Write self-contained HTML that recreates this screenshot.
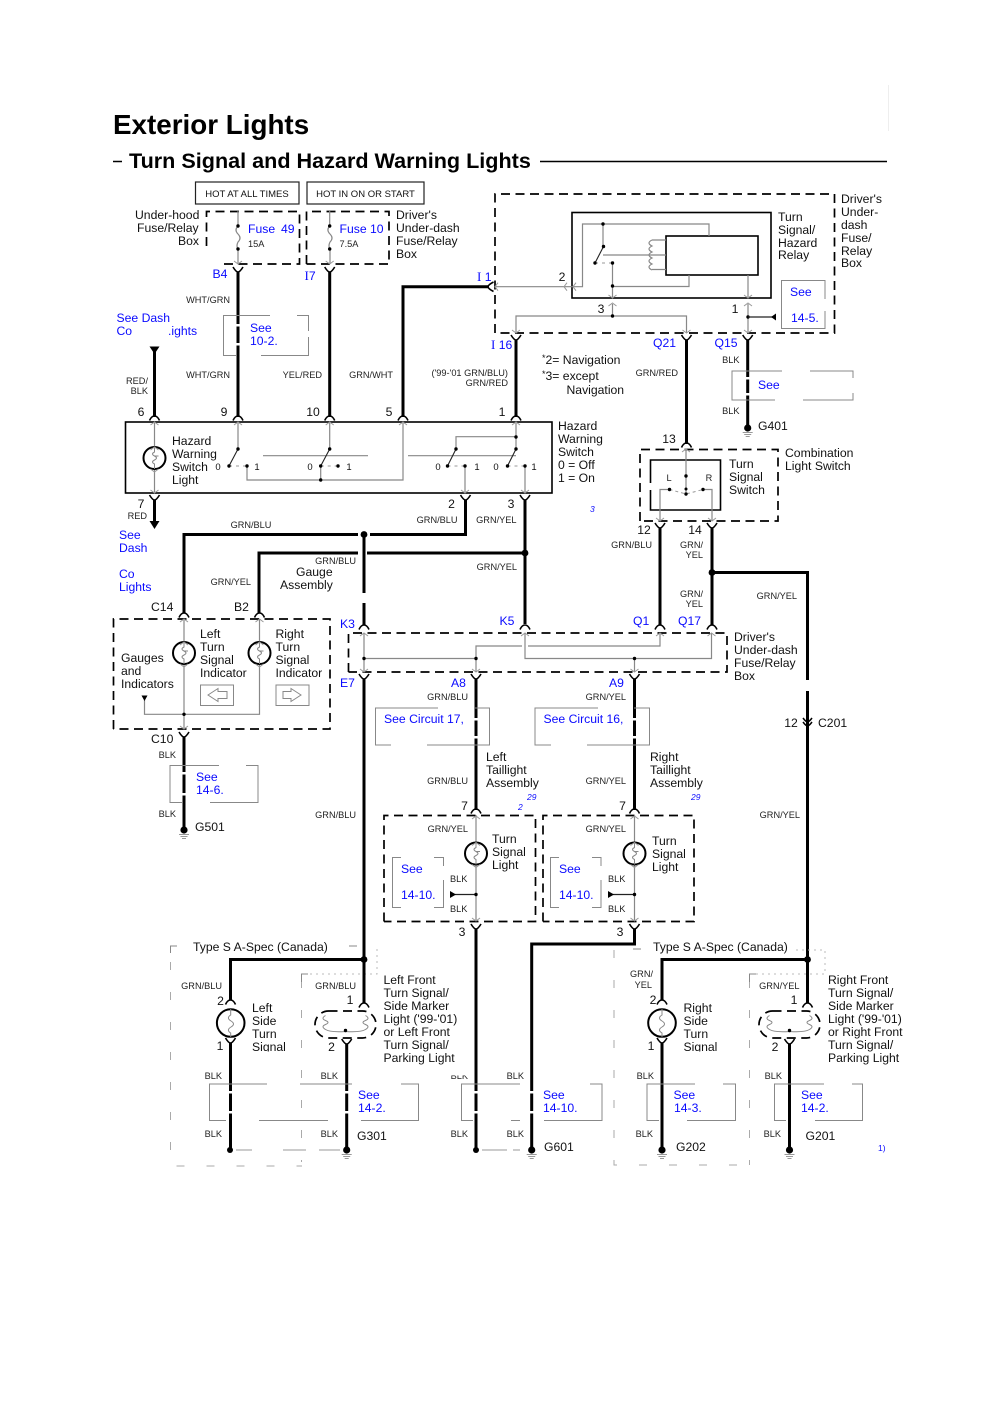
<!DOCTYPE html>
<html><head><meta charset="utf-8"><title>Exterior Lights</title>
<style>
html,body{margin:0;padding:0;background:#fff}
svg{display:block;filter:blur(.3px)}
text{font-family:"Liberation Sans",sans-serif;font-size:12.2px;fill:#111}
.s{font-size:9.2px;fill:#222}
.e{text-anchor:end}
.m{text-anchor:middle}
.l{fill:#0a0aff}
.i{font-style:italic;font-size:8.5px;fill:#0a0aff}
.t{fill:none;stroke:#000;stroke-width:3}
.g{fill:none;stroke:#888;stroke-width:1.2}
.f{fill:none;stroke:#888;stroke-width:1}
.b{fill:none;stroke:#000;stroke-width:1.6}
.d{fill:none;stroke:#000;stroke-width:1.7;stroke-dasharray:9 5.5}
.n{fill:none;stroke:#333;stroke-width:1.2}
.x{fill:none;stroke:#aaa;stroke-width:1;stroke-dasharray:8 22}
.y{fill:none;stroke:#bbb;stroke-width:1;stroke-dasharray:2 4}
.k{fill:#000}
.r{font-family:"Liberation Serif",serif}
</style></head><body>
<svg width="1000" height="1414" viewBox="0 0 1000 1414" xmlns="http://www.w3.org/2000/svg">
<defs>
<path id="A" d="M-5 2.5Q-3-2 0-2Q3-2 5 2.5" fill="none" stroke="#000" stroke-width="1.6"/>
<path id="C" d="M-5-3Q-2 2 0 2Q2 2 5-3" fill="none" stroke="#000" stroke-width="1.6"/>
<path id="D" d="M-4-3L0 0L4-3" fill="none" stroke="#999" stroke-width="1"/>
<path id="U" d="M-4 3L0 0L4 3" fill="none" stroke="#999" stroke-width="1"/>
<path id="L" d="M3-4L0 0L3 4" fill="none" stroke="#999" stroke-width="1"/>
<g id="G"><circle r="3.6" fill="#000"/><path d="M-5 4.5H5M-3.5 6.5H3.5M-2 8.5H2" stroke="#999" stroke-width="1" fill="none"/></g>
<g id="B"><circle r="11" fill="#fff" stroke="#000" stroke-width="2"/><path d="M0-11V-6Q-4-4 0-2Q4 0 0 2Q-4 4 0 6V11M0-2H4" fill="none" stroke="#888" stroke-width="1"/><use href="#U" y="-11"/><use href="#D" y="14"/></g>
<g id="O"><rect x="-30.500" y="-13.500" width="61" height="27" rx="13.500" fill="none" stroke="#000" stroke-width="1.7" stroke-dasharray="9 5.5"/><path d="M-20-9Q-25-6-20-4Q-15-2-20 0Q-25 2-20 5Q-15 8 0 7Q15 8 20 5Q25 2 20 0Q15-2 20-4Q25-6 20-9" fill="none" stroke="#888" stroke-width="1"/><circle cy="6" r="1.7" class="k"/></g>
</defs>

<!-- Heading -->
<line x1="888.500" y1="85" x2="888.500" y2="131" stroke="#eee" stroke-width="1"/>
<text x="113" y="134" style="font-size:27.8px;font-weight:bold;fill:#000">Exterior Lights</text>
<text x="129" y="168" style="font-size:21.6px;font-weight:bold;fill:#000">Turn Signal and Hazard Warning Lights</text>
<path d="M113 161.500H122M540 161.500H887" stroke="#000" stroke-width="1.5" fill="none"/>

<!-- HOT boxes -->
<rect x="195.500" y="182" width="103.500" height="22" fill="none" stroke="#222" stroke-width="1.200"/>
<rect x="307" y="182" width="117" height="22" fill="none" stroke="#222" stroke-width="1.200"/>
<text x="247" y="197" class="m" style="font-size:9.5px">HOT AT ALL TIMES</text>
<text x="365.500" y="197" class="m" style="font-size:9.5px">HOT IN ON OR START</text>

<!-- Fuse boxes -->
<path class="d" d="M206.500 246V211.500H299.500V264H223"/>
<path class="d" d="M306.500 264V211.500H389V264H306.500"/>
<path class="g" d="M238 211V226Q234 230 238 234Q242 238 238 242Q236 246 238 249V264"/>
<path class="g" d="M329.700 211V226Q326 230 330 234Q334 238 330 242Q328 246 330 249V264"/>
<use href="#D" x="238" y="264"/><use href="#D" x="329.700" y="264"/>
<g class="k"><circle cx="238" cy="226" r="1.700"/><circle cx="238" cy="249" r="1.700"/><circle cx="329.700" cy="226" r="1.700"/><circle cx="329.700" cy="249" r="1.700"/></g>
<text x="135" y="219">Under-hood</text><text x="137" y="232">Fuse/Relay</text><text x="178" y="245">Box</text>
<text x="248" y="233" class="l">Fuse</text><text x="281" y="233" class="l">49</text>
<text x="248" y="247" class="s">15A</text>
<text x="339.500" y="233" class="l">Fuse 10</text>
<text x="339.500" y="247" class="s">7.5A</text>
<text x="396" y="219">Driver's</text><text x="396" y="232">Under-dash</text><text x="396" y="245">Fuse/Relay</text><text x="396" y="258">Box</text>
<text x="212.500" y="278" class="l">B4</text>
<text x="304.500" y="280" class="l"><tspan class="r" style="font-size:13px">I</tspan>7</text>
<text x="477" y="281" class="l"><tspan class="r" style="font-size:13px">I</tspan> 1</text>
<text x="491" y="349" class="l"><tspan class="r" style="font-size:13px">I</tspan> 16</text>

<!-- Top thick wires -->
<path class="t" d="M238 272V417M329.700 272V417M403 417V286.700H489M516 340V417M154.500 350V417M686.500 340V444M747.700 340V425"/>
<path d="M149.500 346.500H159.500L154.500 354Z" class="k"/>
<use href="#C" x="238" y="270"/><use href="#C" x="329.700" y="270"/><use href="#C" x="516" y="338"/><use href="#C" x="686.500" y="338"/><use href="#C" x="747.700" y="338"/>
<path d="M493.500 282Q488 285 488 286.700Q488 288.500 493.500 291.500" fill="none" stroke="#000" stroke-width="1.600"/>
<use href="#A" x="154.500" y="418"/><use href="#A" x="238" y="418"/><use href="#A" x="329.700" y="418"/><use href="#A" x="403" y="418"/><use href="#A" x="516" y="418"/><use href="#A" x="686.500" y="445"/>

<!-- See boxes upper -->
<path class="f" d="M270 315.500H223.500V355.500H236M261 355.500H308.500V337M308.500 331V315.500H297"/>
<rect x="235" y="324" width="6" height="2.500" fill="#fff"/><rect x="235" y="343" width="6" height="2.500" fill="#fff"/>
<text x="116.500" y="322" class="l">See Dash</text><text x="116.500" y="335" class="l">Co</text><text x="168" y="335" class="l">.ights</text>
<text x="250" y="332" class="l">See</text><text x="250" y="345" class="l">10-2.</text>
<text x="230" y="303" class="s e">WHT/GRN</text><text x="230" y="378" class="s e">WHT/GRN</text>
<text x="322" y="378" class="s e">YEL/RED</text><text x="393" y="378" class="s e">GRN/WHT</text>
<text x="508" y="376" class="s e">('99-'01 GRN/BLU)</text><text x="508" y="386" class="s e">GRN/RED</text>
<text x="148" y="384" class="s e">RED/</text><text x="148" y="394" class="s e">BLK</text>
<text x="141" y="416" class="m">6</text><text x="224" y="416" class="m">9</text><text x="313" y="416" class="m">10</text><text x="389" y="416" class="m">5</text><text x="502" y="416" class="m">1</text>

<!-- Hazard Warning Switch -->
<rect x="125.500" y="422" width="426.500" height="71" class="b"/>
<path class="g" d="M154.500 422V447M154.500 469V493M238 422V449M329.700 422V449M516 422V449M456 449V436.700H516M465 466V493M525 466V493M263 455.700H368M408 455.700H516M247 466V480H403V422M320.700 466V480"/>
<path d="M238 449L229 466M329.700 449L320.700 466M456 449L447.500 466M516 449L507.500 466" stroke="#222" stroke-width="1.100" fill="none"/>
<path d="M229 466H247M320.700 466H338M447.500 466H465M507.500 466H525" stroke="#999" stroke-width="1" stroke-dasharray="3 4" fill="none"/>
<g class="k"><circle cx="238" cy="449" r="1.700"/><circle cx="229" cy="466" r="1.700"/><circle cx="247" cy="466" r="1.700"/><circle cx="329.700" cy="449" r="1.700"/><circle cx="320.700" cy="466" r="1.700"/><circle cx="338" cy="466" r="1.700"/><circle cx="320.700" cy="480" r="1.700"/><circle cx="516" cy="437" r="1.700"/><circle cx="516" cy="449" r="1.700"/><circle cx="456" cy="449" r="1.700"/><circle cx="447.500" cy="466" r="1.700"/><circle cx="465" cy="466" r="1.700"/><circle cx="507.500" cy="466" r="1.700"/><circle cx="525" cy="466" r="1.700"/></g>
<use href="#B" x="154.500" y="458"/>
<use href="#U" x="154.500" y="422"/><use href="#U" x="238" y="422"/><use href="#U" x="329.700" y="422"/><use href="#U" x="403" y="422"/><use href="#U" x="516" y="422"/>
<use href="#D" x="154.500" y="493"/><use href="#D" x="465" y="493"/><use href="#D" x="525" y="493"/>
<text x="172" y="445">Hazard</text><text x="172" y="458">Warning</text><text x="172" y="471">Switch</text><text x="172" y="484">Light</text>
<g><text x="218" y="470" class="m" style="font-size:9.500px">0</text><text x="257" y="470" class="m" style="font-size:9.500px">1</text><text x="310" y="470" class="m" style="font-size:9.500px">0</text><text x="349" y="470" class="m" style="font-size:9.500px">1</text><text x="438" y="470" class="m" style="font-size:9.500px">0</text><text x="477" y="470" class="m" style="font-size:9.500px">1</text><text x="496" y="470" class="m" style="font-size:9.500px">0</text><text x="534" y="470" class="m" style="font-size:9.500px">1</text></g>
<text x="558" y="430">Hazard</text><text x="558" y="443">Warning</text><text x="558" y="456">Switch</text><text x="558" y="469">0 = Off</text><text x="558" y="482">1 = On</text>
<text x="141" y="508" class="m">7</text><text x="451.500" y="508" class="m">2</text><text x="511" y="508" class="m">3</text>
<use href="#C" x="154.500" y="498"/><use href="#C" x="465.500" y="498"/><use href="#C" x="525" y="498"/>
<path class="t" d="M154.500 500V524M465.500 500V534.500H370M358 534.500H184V613M525 500V624M367 553H525M358 553H259V613M364 534.500V593M364 603V625"/>
<path d="M149.500 521H159.500L154.500 529Z" class="k"/>
<circle cx="364" cy="534.500" r="3.400" class="k"/><circle cx="525" cy="553" r="3.400" class="k"/>
<text x="147" y="519" class="s e">RED</text>
<text x="119" y="539" class="l">See</text><text x="119" y="552" class="l">Dash</text><text x="119" y="578" class="l">Co</text><text x="119" y="591" class="l">Lights</text>
<text x="251" y="528" class="s m">GRN/BLU</text><text x="457.500" y="523" class="s e">GRN/BLU</text><text x="516.500" y="523" class="s e">GRN/YEL</text><text x="356" y="564" class="s e">GRN/BLU</text><text x="517" y="570" class="s e">GRN/YEL</text><text x="251" y="585" class="s e">GRN/YEL</text>
<text x="296" y="576">Gauge</text><text x="280" y="589">Assembly</text>

<!-- Relay box -->
<path class="d" d="M495 333V194H834.500V333H495"/>
<rect x="572" y="212.500" width="199" height="85.500" class="b"/>
<rect x="666" y="236" width="92" height="39" class="b"/>
<path class="g" d="M495 286.700H582.500V224H709V236M603 224V246.500M603 255H666M652 240H666M652 269.500H666M612.500 263V298M612.500 286.500H689V275M748 275V298M612.500 304V316M516 333V316H686.500V333M748 304V333"/>
<path d="M652 240Q646 243 652 246Q646 249 652 252Q646 255 652 258Q646 261 652 264Q646 267 652 270" class="g"/>
<path d="M603.500 246.500L595 263" stroke="#222" stroke-width="1.100" fill="none"/>
<path d="M595 263H612" stroke="#999" stroke-width="1" stroke-dasharray="3 4" fill="none"/>
<g class="k"><circle cx="603" cy="224" r="1.700"/><circle cx="603.500" cy="246.500" r="1.700"/><circle cx="595" cy="263" r="1.700"/><circle cx="612.500" cy="263" r="1.700"/><circle cx="612.500" cy="286" r="1.700"/><circle cx="612.500" cy="316" r="1.700"/><circle cx="748" cy="317" r="1.700"/></g>
<path d="M748 317H775" stroke="#222" stroke-width="1.200"/><path d="M771 317L776 313.500V320.500Z" class="k"/>
<use href="#L" x="495" y="286.700"/><use href="#L" x="564" y="286.700"/><use href="#L" x="573" y="286.700"/>
<use href="#D" x="612.500" y="298"/><use href="#D" x="748" y="298"/><use href="#U" x="612.500" y="303"/><use href="#U" x="748" y="303"/>
<use href="#D" x="516" y="333"/><use href="#D" x="686.500" y="333"/><use href="#D" x="748" y="333"/>
<text x="562" y="281" class="m">2</text><text x="601" y="313" class="m">3</text><text x="735" y="313" class="m">1</text>
<path class="f" d="M825 299V280.500H781.500V328.500H825V311"/>
<text x="790" y="296" class="l">See</text><text x="791" y="322" class="l">14-5.</text>
<text x="778" y="221">Turn</text><text x="778" y="234">Signal/</text><text x="778" y="247">Hazard</text><text x="778" y="259">Relay</text>
<text x="841" y="203">Driver's</text><text x="841" y="216">Under-</text><text x="841" y="229">dash</text><text x="841" y="242">Fuse/</text><text x="841" y="255">Relay</text><text x="841" y="267">Box</text>
<text x="542" y="364"><tspan dy="-3" style="font-size:9px">*</tspan><tspan dy="3">2= Navigation</tspan></text>
<text x="542" y="380"><tspan dy="-3" style="font-size:9px">*</tspan><tspan dy="3">3= except</tspan></text>
<text x="566.500" y="394">Navigation</text>
<text x="678" y="376" class="s e">GRN/RED</text>
<text x="653" y="347" class="l">Q21</text><text x="714.500" y="347" class="l">Q15</text>

<!-- G401 -->
<path class="f" d="M782 371H732V400H775M803 400H853V393M853 378V371H810"/>
<rect x="745" y="377" width="6" height="2.500" fill="#fff"/><rect x="745" y="393" width="6" height="2.500" fill="#fff"/>
<use href="#G" x="747.700" y="428"/>
<text x="758" y="389" class="l">See</text>
<text x="739.500" y="363" class="s e">BLK</text><text x="739.500" y="414" class="s e">BLK</text>
<text x="758" y="430">G401</text>
<text x="669" y="443" class="m">13</text>

<!-- Combination switch -->
<path class="d" d="M640 521V449.500H778V521H640"/>
<path class="b" d="M650.500 483V460H720.500V510H650.500V490"/>
<path class="g" d="M686 449V492M669.500 489.500H660V521M703 489.500H712V521"/>
<path d="M669.500 489.500L686 494L703 489.500" stroke="#999" stroke-width="1" stroke-dasharray="3 3" fill="none"/>
<g class="k"><circle cx="686" cy="476" r="1.700"/><circle cx="686" cy="489" r="1.500"/><circle cx="686" cy="494" r="1.700"/><circle cx="669.500" cy="489.500" r="1.700"/><circle cx="703" cy="489.500" r="1.700"/></g>
<use href="#U" x="686" y="449"/><use href="#D" x="660" y="521"/><use href="#D" x="712" y="521"/>
<text x="669" y="481" class="s m">L</text><text x="709" y="481" class="s m">R</text>
<text x="729" y="468">Turn</text><text x="729" y="481">Signal</text><text x="729" y="494">Switch</text>
<text x="785" y="457">Combination</text><text x="785" y="470">Light Switch</text>
<text x="590" y="512" class="i">3</text>
<text x="644" y="534" class="m">12</text><text x="695" y="534" class="m">14</text>
<use href="#C" x="660" y="526"/><use href="#C" x="712" y="526"/>
<path class="t" d="M660 528V625M712 528V625M712 572.500H807.500V680M807.500 691V960"/>
<circle cx="712" cy="572.500" r="3.400" class="k"/>
<text x="652" y="548" class="s e">GRN/BLU</text><text x="703" y="548" class="s e">GRN/</text><text x="703" y="558" class="s e">YEL</text><text x="703" y="597" class="s e">GRN/</text><text x="703" y="607" class="s e">YEL</text><text x="797" y="599" class="s e">GRN/YEL</text>
<path d="M803 718Q806 722 807.500 722Q809 722 812 718M803 722Q806 726 807.500 726Q809 726 812 722" fill="none" stroke="#000" stroke-width="1.500"/>
<text x="791" y="727" class="m">12</text><text x="818" y="727">C201</text>

<!-- Gauges -->
<path class="d" d="M113.500 729V619H330V729H113.500"/>
<path class="g" d="M184 619V641M184 665V729M259.500 619V641M259.500 665V714.300H144.500V700"/>
<circle cx="184" cy="714.300" r="1.700" class="k"/>
<path d="M141.500 695.500H147.500L144.500 701Z" class="k"/>
<use href="#U" x="184" y="619"/><use href="#U" x="259.500" y="619"/><use href="#D" x="184" y="729"/>
<use href="#B" x="184" y="653"/><use href="#B" x="259.500" y="653"/>
<use href="#A" x="184" y="615"/><use href="#A" x="259.500" y="615"/><use href="#A" x="364" y="627"/><use href="#A" x="525" y="627"/><use href="#A" x="660" y="627"/><use href="#A" x="712" y="627"/>
<text x="151" y="611">C14</text><text x="234" y="611">B2</text>
<text x="200" y="638">Left</text><text x="200" y="651">Turn</text><text x="200" y="664">Signal</text><text x="200" y="677">Indicator</text>
<text x="275.500" y="638">Right</text><text x="275.500" y="651">Turn</text><text x="275.500" y="664">Signal</text><text x="275.500" y="677">Indicator</text>
<text x="121" y="662">Gauges</text><text x="121" y="675">and</text><text x="121" y="688">Indicators</text>
<rect x="200.500" y="685" width="33" height="20.500" class="f"/><rect x="276" y="685" width="33" height="20.500" class="f"/>
<path class="f" d="M208 695L218 688.500V691.500H227V698.500H218V701.500Z"/>
<path class="f" d="M301 695L291 688.500V691.500H283V698.500H291V701.500Z"/>
<text x="151" y="743">C10</text>
<use href="#C" x="184" y="735"/>
<path class="t" d="M184 737V827"/>
<use href="#G" x="184" y="830"/>
<path class="f" d="M219 765.500H170V802.500H182M210 802.500H258V765.500H246"/>
<rect x="181" y="772" width="6" height="2.500" fill="#fff"/><rect x="181" y="793" width="6" height="2.500" fill="#fff"/>
<text x="196" y="781" class="l">See</text><text x="196" y="794" class="l">14-6.</text>
<text x="176" y="758" class="s e">BLK</text><text x="176" y="817" class="s e">BLK</text>
<text x="195" y="831">G501</text>
<text x="356" y="818" class="s e">GRN/BLU</text>

<!-- Under-dash box lower -->
<text x="340" y="628" class="l">K3</text><text x="340" y="687" class="l">E7</text>
<text x="499.500" y="625" class="l">K5</text><text x="633" y="625" class="l">Q1</text><text x="678" y="625" class="l">Q17</text>
<text x="451" y="687" class="l">A8</text><text x="609" y="687" class="l">A9</text>
<path class="d" d="M348.500 672V633H727V672H348.500"/>
<path class="g" d="M364 633V672M364 658.500H476M476 672V646H522M528 646H660V633M525 633V658.500H711.500V633M634.500 658.500V672"/>
<g class="k"><circle cx="364" cy="658.500" r="1.700"/><circle cx="476" cy="658.500" r="1.700"/><circle cx="634.500" cy="658.500" r="1.700"/></g>
<use href="#U" x="364" y="633"/><use href="#U" x="525" y="633"/><use href="#U" x="660" y="633"/><use href="#U" x="711.500" y="633"/>
<use href="#D" x="364" y="672"/><use href="#D" x="476" y="672"/><use href="#D" x="634.500" y="672"/>
<text x="734" y="641">Driver's</text><text x="734" y="654">Under-dash</text><text x="734" y="667">Fuse/Relay</text><text x="734" y="680">Box</text>
<use href="#C" x="364" y="677"/><use href="#C" x="476" y="677"/><use href="#C" x="634.500" y="677"/>
<path class="t" d="M364 679V960M476 679V810M634.500 679V810"/>
<text x="468" y="700" class="s e">GRN/BLU</text><text x="626" y="700" class="s e">GRN/YEL</text><text x="468" y="784" class="s e">GRN/BLU</text><text x="626" y="784" class="s e">GRN/YEL</text>
<path class="f" d="M438 708H375.500V745H391M427 745H489.500V708H474"/>
<path class="f" d="M598 708H535V745H551M587 745H649.500V708H634"/>
<rect x="473" y="718" width="6" height="2.500" fill="#fff"/><rect x="473" y="736" width="6" height="2.500" fill="#fff"/><rect x="631.500" y="718" width="6" height="2.500" fill="#fff"/><rect x="631.500" y="736" width="6" height="2.500" fill="#fff"/>
<text x="384" y="723" class="l">See Circuit 17,</text><text x="543.500" y="723" class="l">See Circuit 16,</text>
<text x="486" y="761">Left</text><text x="486" y="774">Taillight</text><text x="486" y="787">Assembly</text>
<text x="650" y="761">Right</text><text x="650" y="774">Taillight</text><text x="650" y="787">Assembly</text>
<text x="527" y="800" class="i">29</text><text x="518" y="810" class="i">2</text><text x="691" y="800" class="i">29</text>
<text x="464.500" y="810" class="m">7</text><text x="622.500" y="810" class="m">7</text>
<use href="#A" x="476" y="811"/><use href="#A" x="634.500" y="811"/>

<!-- Taillight boxes -->
<path class="d" d="M384 921.500V815.500H535.500V921.500H384"/>
<path class="d" d="M543 921.500V815.500H694V921.500H543"/>
<path class="g" d="M476 815V842M476 865V921M634.500 815V842M634.500 865V921"/>
<use href="#U" x="476" y="816"/><use href="#U" x="634.500" y="816"/><use href="#D" x="476" y="921"/><use href="#D" x="634.500" y="921"/>
<use href="#B" x="476" y="853.500"/><use href="#B" x="634.500" y="853.500"/>
<path d="M452 894.500H476M610 894.500H634.500" stroke="#222" stroke-width="1.200"/>
<path d="M450 891V898L456 894.500ZM608 891V898L614 894.500Z" class="k"/>
<circle cx="476" cy="894.500" r="1.700" class="k"/><circle cx="634.500" cy="894.500" r="1.700" class="k"/>
<path class="f" d="M401 857.500H392.500V907.500H401M434 857.500H443.500V866M443.500 880V907.500H434"/>
<path class="f" d="M559 857.500H550.500V907.500H559M592 857.500H601V866M601 880V907.500H592"/>
<text x="401" y="873" class="l">See</text><text x="401" y="899" class="l">14-10.</text><text x="559" y="873" class="l">See</text><text x="559" y="899" class="l">14-10.</text>
<text x="468" y="832" class="s e">GRN/YEL</text><text x="626" y="832" class="s e">GRN/YEL</text>
<text x="450" y="882" class="s">BLK</text><text x="450" y="912" class="s">BLK</text><text x="608" y="882" class="s">BLK</text><text x="608" y="912" class="s">BLK</text>
<text x="492" y="843">Turn</text><text x="492" y="856">Signal</text><text x="492" y="869">Light</text>
<text x="652" y="845">Turn</text><text x="652" y="858">Signal</text><text x="652" y="871">Light</text>
<text x="800" y="818" class="s e">GRN/YEL</text>
<text x="462" y="936" class="m">3</text><text x="620" y="936" class="m">3</text>
<use href="#C" x="476" y="927"/><use href="#C" x="634.500" y="927"/>
<path class="t" d="M476 929V1148M634.500 929V944H531.700V1148"/>

<!-- Bottom section: faded option boxes -->
<path class="f" d="M177 946H170.500V953"/>
<path class="x" d="M170.500 962V1166H302"/>
<path class="x" d="M301.500 980V1162"/>
<path class="f" d="M308 974H301.500V982M349 946H357"/>
<path class="y" d="M310 974H377V946"/>
<path class="x" d="M614 950V1165H750"/>
<path class="x" d="M749.500 980V1165"/>
<path class="f" d="M756 974H749.500V982M633 949H641"/>
<path class="y" d="M756 974H825V950H795"/>

<path class="t" d="M364 959.500H230.500V1000M364 960V1003M807.500 960V1003M807.500 959.500H662V1000"/>
<circle cx="364" cy="959.500" r="3.400" class="k"/><circle cx="807.500" cy="959.500" r="3.400" class="k"/>
<text x="193" y="951">Type S A-Spec (Canada)</text><text x="653" y="951">Type S A-Spec (Canada)</text>
<text x="222" y="989" class="s e">GRN/BLU</text><text x="356" y="989" class="s e">GRN/BLU</text><text x="653" y="977" class="s e">GRN/</text><text x="652" y="988" class="s e">YEL</text><text x="799.500" y="989" class="s e">GRN/YEL</text>
<text x="220.500" y="1005" class="m">2</text><text x="350" y="1004" class="m">1</text><text x="220" y="1050" class="m">1</text><text x="331.500" y="1051" class="m">2</text>
<text x="653" y="1004" class="m">2</text><text x="794" y="1004" class="m">1</text><text x="651" y="1050" class="m">1</text><text x="775" y="1051" class="m">2</text>
<use href="#A" x="230.500" y="1002"/><use href="#A" x="364" y="1005"/><use href="#A" x="662" y="1002"/><use href="#A" x="807.500" y="1005"/>

<g><circle cx="230.700" cy="1023" r="13.800" fill="#fff" stroke="#000" stroke-width="2"/><path d="M230.700 1009V1015Q226 1018 231 1021Q236 1024 231 1027Q226 1030 230.700 1033V1037" fill="none" stroke="#888"/></g>
<g><circle cx="662" cy="1023" r="13.800" fill="#fff" stroke="#000" stroke-width="2"/><path d="M662 1009V1015Q657 1018 662 1021Q667 1024 662 1027Q657 1030 662 1033V1037" fill="none" stroke="#888"/></g>
<use href="#O" x="345.500" y="1024.500"/><use href="#O" x="789.500" y="1024.500"/>
<use href="#C" x="230.500" y="1041"/><use href="#C" x="346.700" y="1042"/><use href="#C" x="662" y="1041"/><use href="#C" x="789.500" y="1042"/>
<path class="t" d="M230.500 1043V1148M346.700 1044V1148M662 1043V1148M789.500 1044V1148"/>

<text x="252" y="1012">Left</text><text x="252" y="1025">Side</text><text x="252" y="1038">Turn</text><text x="252" y="1051">Signal</text>
<rect x="250" y="1051.500" width="45" height="5" fill="#fff"/>
<text x="683.500" y="1012">Right</text><text x="683.500" y="1025">Side</text><text x="683.500" y="1038">Turn</text><text x="683.500" y="1051">Signal</text>
<rect x="682" y="1051.500" width="45" height="5" fill="#fff"/>
<text x="383.500" y="984">Left Front</text><text x="383.500" y="997">Turn Signal/</text><text x="383.500" y="1010">Side Marker</text><text x="383.500" y="1023">Light ('99-'01)</text><text x="383.500" y="1036">or Left Front</text><text x="383.500" y="1049">Turn Signal/</text><text x="383.500" y="1062">Parking Light</text>
<text x="828" y="984">Right Front</text><text x="828" y="997">Turn Signal/</text><text x="828" y="1010">Side Marker</text><text x="828" y="1023">Light ('99-'01)</text><text x="828" y="1036">or Right Front</text><text x="828" y="1049">Turn Signal/</text><text x="828" y="1062">Parking Light</text>

<!-- Bottom see boxes -->
<path class="f" d="M267 1084H209.500V1120.500H226M259 1120.500H328M361 1120.500H418.500V1084H401M300 1084H352"/>
<path class="f" d="M520 1084H461.500V1120.500H473M511 1120.500H520M544 1120.500H602V1084H590"/>
<path class="f" d="M695 1084H647V1120.500H659M687 1120.500H735.500V1084H723"/>
<path class="f" d="M824 1084H774.500V1120.500H786M815 1120.500H862.500V1084H852"/>
<g fill="#fff"><rect x="227.500" y="1091" width="6" height="2.500"/><rect x="227.500" y="1111" width="6" height="2.500"/><rect x="343.700" y="1091" width="6" height="2.500"/><rect x="343.700" y="1111" width="6" height="2.500"/><rect x="473" y="1091" width="6" height="2.500"/><rect x="473" y="1111" width="6" height="2.500"/><rect x="528.700" y="1091" width="6" height="2.500"/><rect x="528.700" y="1111" width="6" height="2.500"/></g>
<text x="358" y="1099" class="l">See</text><text x="358" y="1112" class="l">14-2.</text>
<text x="543" y="1099" class="l">See</text><text x="543" y="1112" class="l">14-10.</text>
<text x="673.500" y="1099" class="l">See</text><text x="674" y="1112" class="l">14-3.</text>
<text x="801" y="1099" class="l">See</text><text x="801" y="1112" class="l">14-2.</text>
<text x="222" y="1079" class="s e">BLK</text><text x="338" y="1079" class="s e">BLK</text>
<text x="468" y="1079" class="s e">BLK</text><rect x="445" y="1068" width="26" height="7.500" fill="#fff"/>
<text x="524" y="1079" class="s e">BLK</text><text x="654" y="1079" class="s e">BLK</text><text x="782" y="1079" class="s e">BLK</text>
<text x="222" y="1137" class="s e">BLK</text><text x="338" y="1137" class="s e">BLK</text><text x="468" y="1137" class="s e">BLK</text><text x="524" y="1137" class="s e">BLK</text><text x="653" y="1137" class="s e">BLK</text><text x="781" y="1137" class="s e">BLK</text>

<!-- Grounds -->
<circle cx="230" cy="1150" r="3" class="k"/><circle cx="476" cy="1150" r="3" class="k"/>
<use href="#G" x="346.700" y="1150"/><use href="#G" x="531.700" y="1150"/><use href="#G" x="662" y="1150"/><use href="#G" x="789.500" y="1150"/>
<path d="M236 1150H252M283 1150H306M319 1150H340M482 1150H507M513 1150H520" stroke="#999" stroke-width="1" fill="none"/>
<text x="357" y="1140">G301</text><text x="544" y="1151">G601</text><text x="676" y="1151">G202</text><text x="805.500" y="1140">G201</text>
<text x="878" y="1151" class="l" style="font-size:8.5px">1)</text>
</svg>
</body></html>
